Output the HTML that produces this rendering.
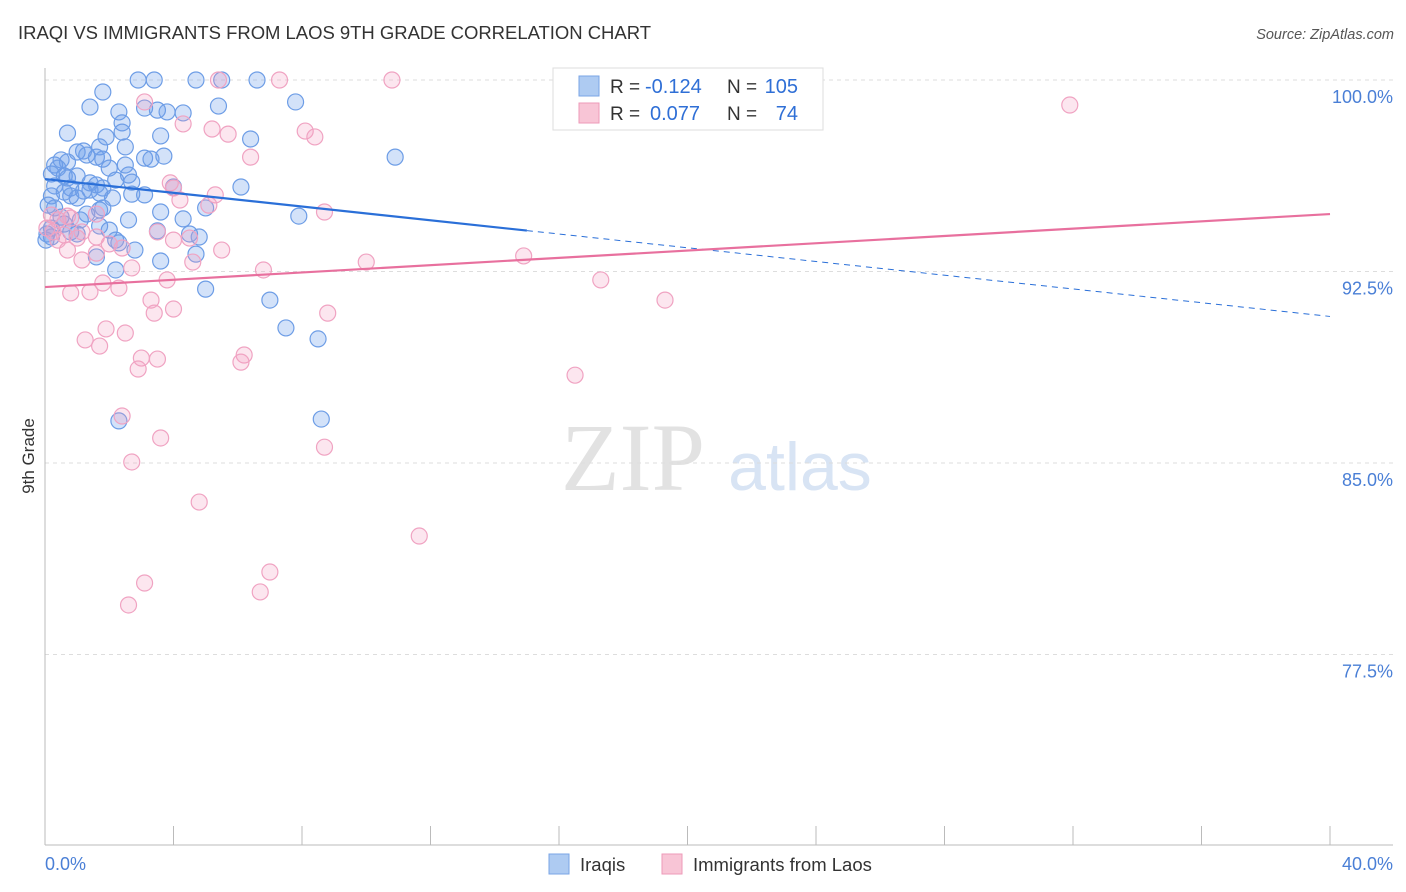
<!DOCTYPE html>
<html><head><meta charset="utf-8">
<style>
body{margin:0;background:#fff;font-family:"Liberation Sans",sans-serif;}
svg{display:block}
</style></head>
<body>
<svg id="chart" width="1406" height="892">
<text x="18" y="39" font-size="18.5" fill="#333" textLength="633">IRAQI VS IMMIGRANTS FROM LAOS 9TH GRADE CORRELATION CHART</text>
<text x="1394" y="39" font-size="14.5" fill="#555" font-style="italic" text-anchor="end">Source: ZipAtlas.com</text>
<text x="633" y="490" font-size="96" fill="#e2e2e2" font-family="Liberation Serif" text-anchor="middle">ZIP</text>
<text x="800" y="490" font-size="68" fill="#d8e4f4" text-anchor="middle">atlas</text>
<text transform="translate(34,456) rotate(-90)" font-size="17" fill="#333" text-anchor="middle">9th Grade</text>
<g id="grid"></g><g id="axes"></g><g id="pts"></g><g id="lines"></g>
<g>
<rect x="553" y="68" width="270" height="62" fill="#fff" stroke="#ddd"/>
<rect x="579" y="76" width="20" height="20" fill="#aecbf2" stroke="#7aa5e6"/>
<rect x="579" y="103" width="20" height="20" fill="#f8c5d6" stroke="#ee9ab8"/>
<text x="610" y="93" font-size="19" fill="#333">R =</text>
<text x="645" y="93" font-size="20" fill="#2f6fd6">-0.124</text>
<text x="727" y="93" font-size="19" fill="#333">N =</text>
<text x="798" y="93" font-size="20" fill="#2f6fd6" text-anchor="end">105</text>
<text x="610" y="120" font-size="19" fill="#333">R =</text>
<text x="650" y="120" font-size="20" fill="#2f6fd6">0.077</text>
<text x="727" y="120" font-size="19" fill="#333">N =</text>
<text x="798" y="120" font-size="20" fill="#2f6fd6" text-anchor="end">74</text>
</g>
<g>
<rect x="549" y="854" width="20" height="20" fill="#aecbf2" stroke="#7aa5e6"/>
<text x="580" y="871" font-size="18.5" fill="#333">Iraqis</text>
<rect x="662" y="854" width="20" height="20" fill="#f8c5d6" stroke="#ee9ab8"/>
<text x="693" y="871" font-size="18.5" fill="#333">Immigrants from Laos</text>
</g>
</svg>
<script>
const yTicks=[100,92.5,85,77.5];
const yTickLabels=["100.0%","92.5%","85.0%","77.5%"];
const xTicks=[0,4,8,12,16,20,24,28,32,36,40];
const blueX=[2.9,3.4,4.7,5.5,6.6,1.8,7.8,1.4,3.1,3.5,3.8,4.3,5.4,2.3,2.4,0.7,2.4,3.6,1.9,6.4,2.5,1.7,1.2,1.0,1.3,1.6,1.8,3.1,3.3,3.7,10.9,0.5,0.7,0.3,0.4,2.5,2.0,2.6,0.2,0.6,0.7,1.0,1.4,1.6,0.3,0.8,1.4,1.8,2.2,2.7,4.0,6.1,0.6,0.8,1.0,1.2,1.7,2.1,2.7,0.2,0.3,5.0,0.1,3.6,1.7,1.8,1.3,4.3,7.9,0.5,0.6,1.1,1.7,3.5,4.5,4.8,0.2,0.03,1.0,2.2,2.3,2.8,1.6,4.7,3.6,2.2,5.0,7.0,7.5,8.5,2.3,8.6,0.06,0.2,0.8,2.0,2.6,3.1];
const blueY=[100,100,100,100,100,99.53,99.14,98.94,98.9,98.82,98.75,98.71,98.98,98.75,98.32,97.92,97.96,97.81,97.77,97.69,97.38,97.38,97.22,97.18,97.06,96.98,96.9,96.94,96.9,97.02,96.98,96.87,96.79,96.67,96.55,96.67,96.55,96.28,96.32,96.24,96.16,96.24,95.97,95.89,95.85,95.77,95.69,95.77,96.08,96.0,95.81,95.81,95.61,95.46,95.38,95.65,95.57,95.38,95.53,95.46,94.99,94.99,95.1,94.83,94.91,94.99,94.75,94.56,94.67,94.63,94.36,94.52,94.28,94.09,93.97,93.85,93.85,93.73,93.97,93.73,93.62,93.34,93.07,93.18,92.91,92.56,91.81,91.38,90.29,89.86,86.65,86.72,93.97,94.2,94.05,94.12,94.52,95.5];
const pinkX=[7.3,10.8,5.4,3.1,31.9,4.3,5.2,5.7,8.1,8.4,6.4,3.9,4.0,4.2,5.3,5.1,8.7,0.2,0.4,0.7,0.8,1.6,0.06,0.25,1.15,3.5,1.0,1.6,2.0,2.4,4.0,4.5,5.5,0.7,1.6,4.6,1.15,2.7,6.8,10.0,14.9,3.8,1.8,2.3,0.8,1.4,17.3,3.3,4.0,19.3,3.4,8.8,1.9,2.5,1.25,1.7,3.0,3.5,6.2,6.1,2.9,16.5,2.4,3.6,8.7,2.7,4.8,11.65,7.0,3.1,6.7,2.6,0.4,0.6];
const pinkY=[100,100,100,99.14,99.02,98.28,98.08,97.88,98.0,97.77,96.98,95.97,95.77,95.3,95.5,95.1,94.83,94.71,94.52,94.67,94.59,94.75,94.2,94.05,94.05,94.05,93.81,93.85,93.58,93.42,93.73,93.81,93.34,93.34,93.22,92.87,92.95,92.64,92.56,92.87,93.11,92.17,92.05,91.85,91.66,91.7,92.17,91.38,91.03,91.38,90.87,90.87,90.25,90.09,89.82,89.58,89.11,89.07,89.23,88.95,88.68,88.44,86.84,85.98,85.62,85.04,83.47,82.14,80.73,80.3,79.95,79.44,93.73,93.93];
const blueFit=[96.12,-0.1345];
const pinkFit=[91.89,0.0715];
const NS="http://www.w3.org/2000/svg";
const X=v=>45+v*(1285/40), Y=v=>80+(100-v)*(191.5/7.5);
function mk(tag,attrs,parent){const e=document.createElementNS(NS,tag);for(const k in attrs)e.setAttribute(k,attrs[k]);document.getElementById(parent).appendChild(e);return e;}
yTicks.forEach((t,i)=>{
 const g=mk('line',{x1:45,x2:1393,y1:Y(t),y2:Y(t),stroke:'#ddd','stroke-dasharray':'4,4'},'grid');
 
 
 const l=mk('text',{x:1393,y:Y(t)+23,'font-size':18,fill:'#4a7fd6','text-anchor':'end'},'grid');
 l.textContent=yTickLabels[i];
 
 
});
const ax=mk('line',{x1:45,x2:45,y1:68,y2:845,stroke:'#bbb'},'axes');


const bx=mk('line',{x1:45,x2:1393,y1:845,y2:845,stroke:'#bbb'},'axes');


xTicks.forEach(t=>{
 const tk=mk('line',{x1:X(t),x2:X(t),y1:826,y2:845,stroke:'#bbb'},'axes');
 
 
});
[[0,'0.0%','start',45],[40,'40.0%','end',1393]].forEach(d=>{
 const t=mk('text',{x:d[3],y:870,'font-size':18,fill:'#4a7fd6','text-anchor':d[2]},'axes');
 t.textContent=d[1];
 
 
});
blueX.forEach((v,i)=>{
 const c=mk('circle',{cx:X(v),cy:Y(blueY[i]),r:8,fill:'rgba(110,160,235,0.3)',stroke:'#6d9de6','stroke-width':1.2},'pts');
 
 
});
pinkX.forEach((v,i)=>{
 const c=mk('circle',{cx:X(v),cy:Y(pinkY[i]),r:8,fill:'rgba(245,160,195,0.26)',stroke:'#f0a3c2','stroke-width':1.2},'pts');
 
 
});
const bf=x=>blueFit[0]+blueFit[1]*x, pf=x=>pinkFit[0]+pinkFit[1]*x;
const b1=mk('line',{x1:X(0),y1:Y(bf(0)),x2:X(15),y2:Y(bf(15)),stroke:'#2a6fd8','stroke-width':2.2},'lines');


const b2=mk('line',{x1:X(15),y1:Y(bf(15)),x2:X(40),y2:Y(bf(40)),stroke:'#2a6fd8','stroke-width':1,'stroke-dasharray':'6,5'},'lines');


const p1=mk('line',{x1:X(0),y1:Y(pf(0)),x2:X(40),y2:Y(pf(40)),stroke:'#e8709e','stroke-width':2.2},'lines');


</script>
</body></html>
